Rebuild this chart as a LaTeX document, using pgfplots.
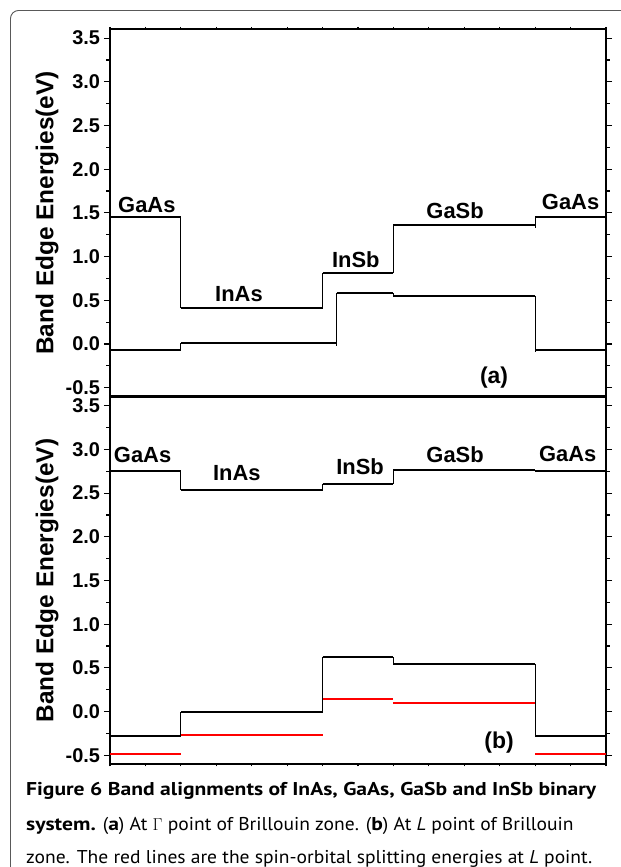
\documentclass[border=0pt]{standalone}
\usepackage{fontspec}
\setmainfont{Liberation Sans}
\newfontfamily\capfont{PT Sans}[FakeStretch=1.055, BoldFeatures={FakeStretch=1.165}]
\usepackage{pgfplots}
\pgfplotsset{compat=1.18}

\pgfplotsset{
  bandaxis/.style={
    scale only axis, width=496bp, height=367bp,
    xmin=0, xmax=7, ymin=-0.6, ymax=3.6,
    xtick={0,0.5,1,1.5,2,2.5,3,3.5,4,4.5,5,5.5,6,6.5,7}, xticklabels={},
    ytick={-0.5,0,0.5,1,1.5,2,2.5,3,3.5}, minor y tick num=1,
    tick align=outside, yticklabel pos=left,
    major tick length=6bp, minor tick length=3.5bp,
    x tick style={/pgfplots/major tick length=2.5bp},
    axis line style={line width=1.8bp},
    every tick/.style={black, line width=1.2bp},
    ticklabel style={font=\bfseries\fontsize{20}{20}\selectfont},
    yticklabel style={xshift=-0.5bp},
    /pgf/number format/.cd, fixed, fixed zerofill, precision=1, assume math mode=true,
    /pgfplots/.cd,
    ylabel={Band Edge Energies(eV)},
    ylabel style={at={(axis description cs:-0.127,0.5)}, anchor=center,
      font=\bfseries\fontsize{24.5}{24.5}\selectfont},
    clip=false,
  },
  lvl/.style={black, line width=2bp},
  conn/.style={black, line width=0.8bp},
  so/.style={red, line width=2bp},
}
\tikzset{
  mat/.style={font=\bfseries\fontsize{22}{22}\selectfont},
  panel/.style={font=\bfseries\fontsize{23}{23}\selectfont},
}

\begin{document}
\begin{tikzpicture}
% frame of the figure box
\draw[gray!70!black, line width=0.9bp, rounded corners=8bp]
  (10.5bp,0bp) -- (10.5bp,856.5bp) -- (621bp,856.5bp);

% (a) Gamma point
\begin{axis}[bandaxis, at={(110bp,470.6bp)}, anchor=south west, xtick pos=right]
  % conduction band
  \addplot[lvl] coordinates {(0,1.45) (1,1.45)};
  \addplot[lvl] coordinates {(1,0.41) (3,0.41)};
  \addplot[lvl] coordinates {(3,0.81) (4,0.81)};
  \addplot[lvl] coordinates {(4,1.36) (6,1.36)};
  \addplot[lvl] coordinates {(6,1.45) (7,1.45)};
  \addplot[conn] coordinates {(1,1.45) (1,0.41)};
  \addplot[conn] coordinates {(3,0.41) (3,0.81)};
  \addplot[conn] coordinates {(4,0.81) (4,1.36)};
  \addplot[conn] coordinates {(6,1.33) (6,1.45)};
  % valence band
  \addplot[lvl] coordinates {(0,-0.07) (1,-0.07)};
  \addplot[lvl] coordinates {(1,0.01) (3.2,0.01)};
  \addplot[lvl] coordinates {(3.2,0.58) (4,0.58)};
  \addplot[lvl] coordinates {(4,0.55) (6,0.55)};
  \addplot[lvl] coordinates {(6,-0.07) (7,-0.07)};
  \addplot[conn] coordinates {(1,-0.07) (1,0.01)};
  \addplot[conn] coordinates {(3.2,-0.02) (3.2,0.58)};
  \addplot[conn] coordinates {(4,0.58) (4,0.55)};
  \addplot[conn] coordinates {(6,0.55) (6,-0.09)};
  \node[mat] at (axis cs:0.52,1.59) {GaAs};
  \node[mat] at (axis cs:1.82,0.57) {InAs};
  \node[mat] at (axis cs:3.47,0.97) {InSb};
  \node[mat] at (axis cs:4.87,1.53) {GaSb};
  \node[mat] at (axis cs:6.5,1.62) {GaAs};
  \node[panel] at (axis cs:5.42,-0.39) {(a)};
\end{axis}

% (b) L point
\begin{axis}[bandaxis, at={(110bp,103bp)}, anchor=south west, xtick pos=left]
  % conduction band
  \addplot[lvl] coordinates {(0,2.75) (1,2.75)};
  \addplot[lvl] coordinates {(1,2.53) (3,2.53)};
  \addplot[lvl] coordinates {(3,2.61) (4,2.61)};
  \addplot[lvl] coordinates {(4,2.76) (6,2.76)};
  \addplot[lvl] coordinates {(6,2.75) (7,2.75)};
  \addplot[conn] coordinates {(1,2.75) (1,2.53)};
  \addplot[conn] coordinates {(3,2.53) (3,2.61)};
  \addplot[conn] coordinates {(4,2.61) (4,2.76)};
  \addplot[conn] coordinates {(6,2.76) (6,2.75)};
  % valence band
  \addplot[lvl] coordinates {(0,-0.28) (1,-0.28)};
  \addplot[lvl] coordinates {(1,0.0) (3,0.0)};
  \addplot[lvl] coordinates {(3,0.62) (4,0.62)};
  \addplot[lvl] coordinates {(4,0.54) (6,0.54)};
  \addplot[lvl] coordinates {(6,-0.28) (7,-0.28)};
  \addplot[conn] coordinates {(1,-0.28) (1,0.0)};
  \addplot[conn] coordinates {(3,0.0) (3,0.62)};
  \addplot[conn] coordinates {(4,0.62) (4,0.54)};
  \addplot[conn] coordinates {(6,0.54) (6,-0.28)};
  % spin-orbit split-off
  \addplot[so] coordinates {(0,-0.49) (1,-0.49)};
  \addplot[so] coordinates {(1,-0.265) (3,-0.265)};
  \addplot[so] coordinates {(3,0.14) (4,0.14)};
  \addplot[so] coordinates {(4,0.095) (6,0.095)};
  \addplot[so] coordinates {(6,-0.49) (7,-0.49)};
  \node[mat] at (axis cs:0.46,2.94) {GaAs};
  \node[mat] at (axis cs:1.79,2.73) {InAs};
  \node[mat] at (axis cs:3.53,2.80) {InSb};
  \node[mat] at (axis cs:4.87,2.94) {GaSb};
  \node[mat] at (axis cs:6.46,2.95) {GaAs};
  \node[panel] at (axis cs:5.49,-0.36) {(b)};
\end{axis}

% caption
\begin{scope}[every node/.style={anchor=base west, inner sep=0pt,
    font=\capfont\fontsize{18.6}{22}\selectfont}]
  \node at (26bp,71bp) {\bfseries Figure 6 Band alignments of InAs, GaAs, GaSb and InSb binary};
  \node at (26bp,37bp) {\textbf{system.} (\textbf{a}) At $\Gamma$ point of Brillouin zone. (\textbf{b}) At \textit{L} point of Brillouin};
  \node at (26bp,4bp) {zone. The red lines are the spin-orbital splitting energies at \textit{L} point.};
\end{scope}
\pgfresetboundingbox
\useasboundingbox (0bp,0bp) rectangle (621bp,867bp);
\end{tikzpicture}
\end{document}
